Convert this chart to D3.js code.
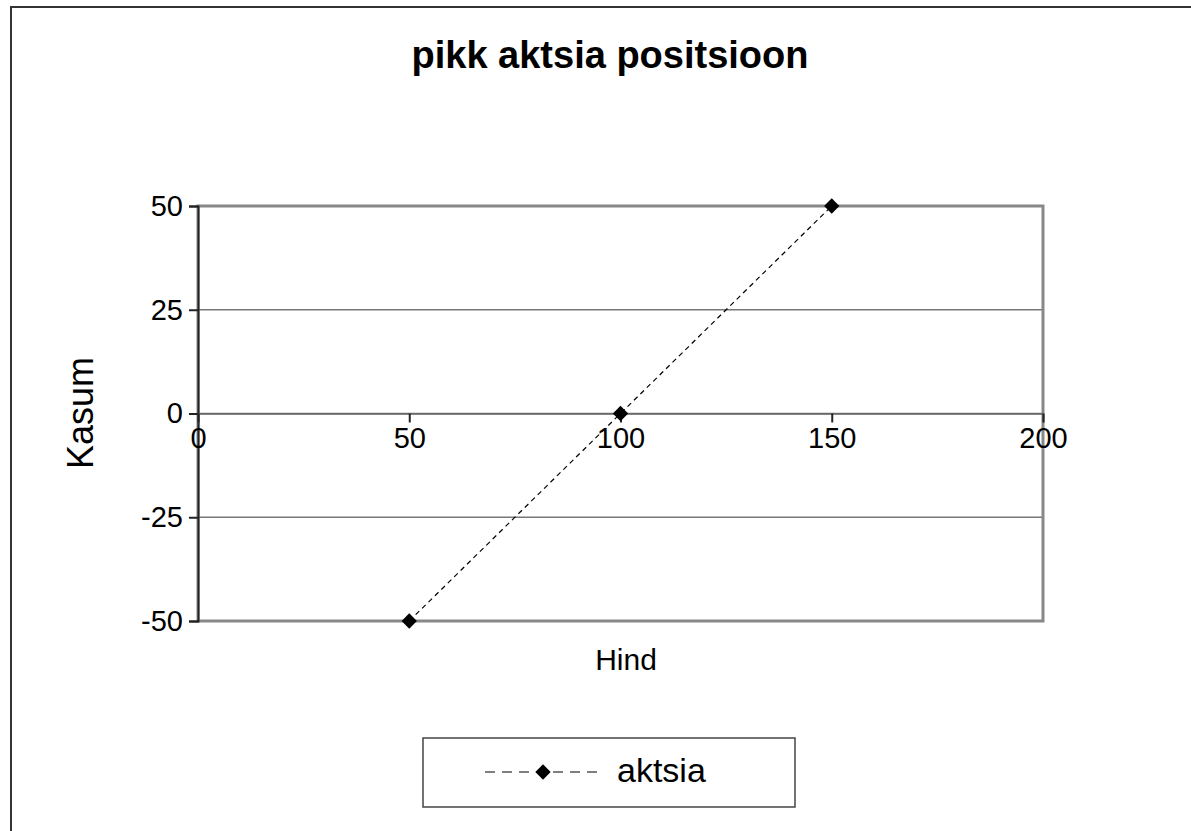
<!DOCTYPE html>
<html>
<head>
<meta charset="utf-8">
<script src="https://cdn.jsdelivr.net/npm/d3@7"></script>
<style>
  body { margin: 0; background: #fff; }
  text { font-family: "Liberation Sans", Arial, sans-serif; }
</style>
</head>
<body>
<svg id="drawing_region"></svg>
<script>
const xValues = [50, 100, 150];
const yValues = [-50, 0, 50];
const xTicks = [0, 50, 100, 150, 200];
const yTicks = [-50, -25, 0, 25, 50];
const seriesName = "aktsia";
const titleText = "pikk aktsia positsioon";
const xTitle = "Hind";
const yTitle = "Kasum";

const width = 1191, height = 831;
const margin = {top: 206, right: 148, bottom: 210, left: 198};

const svg = d3.select('#drawing_region')
    .attr('width', width)
    .attr('height', height);

// outer chart border
svg.append('rect')
    .attr('x', 11).attr('y', 7)
    .attr('width', width + 20).attr('height', height + 20)
    .attr('fill', 'none')
    .attr('stroke', '#333')
    .attr('stroke-width', 2);

const inner_width = width - margin.left - margin.right;
const inner_height = height - margin.top - margin.bottom;

const chart = svg.append('g')
    .attr('transform', `translate(${margin.left}, ${margin.top})`);

const xscale = d3.scaleLinear().domain([0, 200]).range([0, inner_width]);
const yscale = d3.scaleLinear().domain([-50, 50]).range([inner_height, 0]);

// gridlines
chart.selectAll('.grid')
    .data(yTicks)
    .enter()
    .append('line')
    .attr('x1', 0).attr('x2', inner_width)
    .attr('y1', d => yscale(d)).attr('y2', d => yscale(d))
    .attr('stroke', '#777')
    .attr('stroke-width', 1.3);

// plot area border
chart.append('rect')
    .attr('x', 0).attr('y', 0)
    .attr('width', inner_width).attr('height', inner_height)
    .attr('fill', 'none')
    .attr('stroke', '#888')
    .attr('stroke-width', 3);

// y axis
const yaxis = d3.axisLeft(yscale).tickValues(yTicks).tickSize(9).tickPadding(6)
    .tickFormat(d => String(d));
const yaxis_group = chart.append('g').call(yaxis);
yaxis_group.select('.domain').attr('stroke', '#222').attr('stroke-width', 2);
yaxis_group.selectAll('.tick line').attr('stroke', '#222').attr('stroke-width', 2);
yaxis_group.selectAll('.tick text')
    .attr('font-size', 29)
    .attr('fill', '#000')
    .style('font-family', '"Liberation Sans", Arial, sans-serif');

// x axis at y = 0
const xaxis = d3.axisBottom(xscale).tickValues(xTicks).tickSize(9).tickPadding(5)
    .tickFormat(d => String(d));
const xaxis_group = chart.append('g')
    .attr('transform', `translate(0, ${yscale(0)})`)
    .call(xaxis);
xaxis_group.select('.domain').attr('stroke', '#666').attr('stroke-width', 1.5);
xaxis_group.selectAll('.tick line').attr('stroke', '#222').attr('stroke-width', 2);
xaxis_group.selectAll('.tick text')
    .attr('font-size', 29)
    .attr('fill', '#000')
    .style('font-family', '"Liberation Sans", Arial, sans-serif');

// series
const data = xValues.map((x, i) => ({x: x, y: yValues[i]}));
const line = d3.line()
    .x(d => xscale(d.x))
    .y(d => yscale(d.y));

chart.append('path')
    .attr('d', line(data))
    .attr('fill', 'none')
    .attr('stroke', '#000')
    .attr('stroke-width', 1.2)
    .attr('stroke-dasharray', '5,4');

const diamond = d3.symbol().type(d3.symbolDiamond2).size(150);
chart.selectAll('.marker')
    .data(data)
    .enter()
    .append('path')
    .attr('d', diamond)
    .attr('transform', d => `translate(${xscale(d.x)}, ${yscale(d.y)})`)
    .attr('fill', '#000');

// titles
svg.append('text')
    .attr('x', 610).attr('y', 68)
    .attr('text-anchor', 'middle')
    .attr('font-size', 38)
    .attr('font-weight', 'bold')
    .text(titleText);

svg.append('text')
    .attr('x', 626).attr('y', 670)
    .attr('text-anchor', 'middle')
    .attr('font-size', 30)
    .text(xTitle);

svg.append('text')
    .attr('transform', 'translate(93, 413) rotate(-90)')
    .attr('text-anchor', 'middle')
    .attr('font-size', 36)
    .text(yTitle);

// legend
const legend = svg.append('g').attr('transform', 'translate(423, 738)');
legend.append('rect')
    .attr('width', 372).attr('height', 69)
    .attr('fill', '#fff')
    .attr('stroke', '#444')
    .attr('stroke-width', 1.5);
legend.append('line')
    .attr('x1', 62).attr('x2', 180)
    .attr('y1', 34).attr('y2', 34)
    .attr('stroke', '#000')
    .attr('stroke-width', 1.2)
    .attr('stroke-dasharray', '10,7');
legend.append('path')
    .attr('d', diamond)
    .attr('transform', 'translate(120, 34)')
    .attr('fill', '#000');
legend.append('text')
    .attr('x', 194).attr('y', 44)
    .attr('font-size', 34)
    .text(seriesName);
</script>
</body>
</html>
